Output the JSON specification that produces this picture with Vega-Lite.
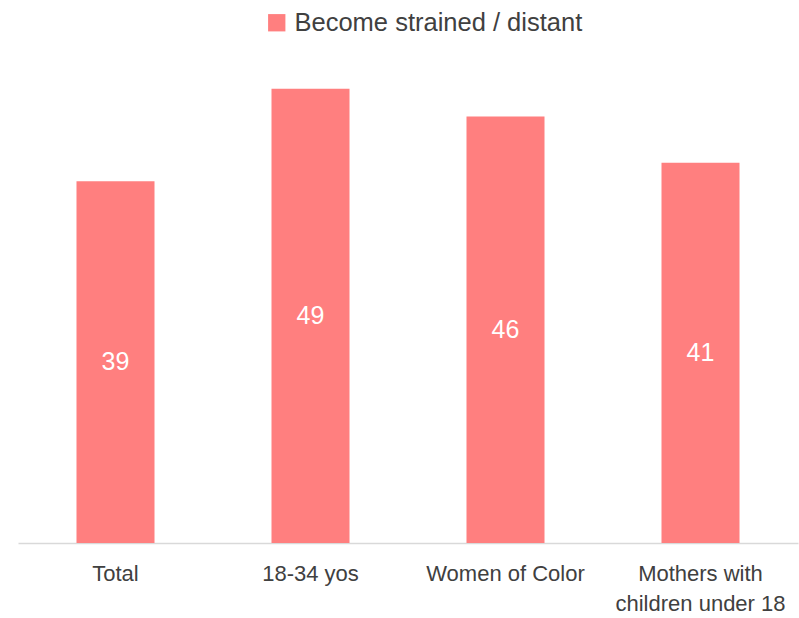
{
  "$schema": "https://vega.github.io/schema/vega-lite/v6.json",
  "autosize": "none",
  "width": 780,
  "height": 510,
  "padding": {"left": 18, "top": 33, "right": 1, "bottom": 75},
  "background": "white",
  "config": {"view": {"stroke": null}, "font": "Liberation Sans"},
  "data": {"values": [
    {"group": "Total", "series": "Become strained / distant", "value": 39},
    {"group": "18-34 yos", "series": "Become strained / distant", "value": 49},
    {"group": "Women of Color", "series": "Become strained / distant", "value": 46},
    {"group": "Mothers with children under 18", "series": "Become strained / distant", "value": 41}
  ]},
  "encoding": {
    "x": {"field": "group", "type": "nominal", "sort": null, "title": null,
      "scale": {"paddingInner": 0.6, "paddingOuter": 0.3},
      "axis": {"labelAngle": 0, "ticks": false, "domainColor": "#d9d9d9", "domainWidth": 1.5,
        "labelFont": "Liberation Sans", "labelFontSize": 22, "labelColor": "#404040",
        "labelPadding": 20, "labelLineHeight": 30, "labelLimit": 300,
        "labelExpr": "datum.value == 'Mothers with children under 18' ? ['Mothers with', 'children under 18'] : datum.label"}}
  },
  "layer": [
    {
      "mark": {"type": "bar", "color": "#FF7F7F"},
      "encoding": {
        "y": {"field": "value", "type": "quantitative", "scale": {"domain": [0, 55]}, "axis": null},
        "color": {"field": "series", "type": "nominal", "scale": {"range": ["#FF7F7F"]},
          "legend": {"title": null, "orient": "none", "legendX": 246, "legendY": -23, "padding": 0,
            "symbolType": "square", "symbolSize": 300, "symbolStrokeWidth": 0, "symbolOpacity": 1,
            "labelFont": "Liberation Sans", "labelFontSize": 25.5, "labelColor": "#404040", "labelOffset": 5, "labelLimit": 500}}
      }
    },
    {
      "transform": [{"calculate": "datum.value / 2", "as": "mid"}],
      "mark": {"type": "text", "color": "white", "fontSize": 25, "font": "Liberation Sans", "baseline": "middle"},
      "encoding": {
        "y": {"field": "mid", "type": "quantitative"},
        "text": {"field": "value", "type": "quantitative"}
      }
    }
  ]
}
